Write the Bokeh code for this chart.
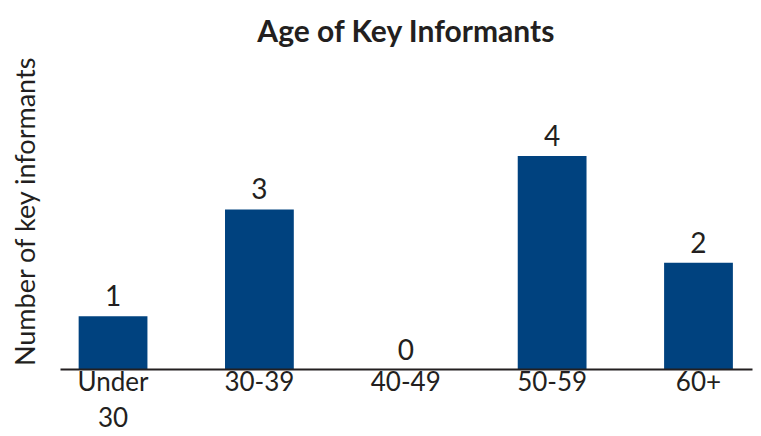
from bokeh.plotting import figure
from bokeh.models import ColumnDataSource, Range1d, FixedTicker
from bokeh.core.properties import value
from bokeh.embed import file_html
from bokeh.resources import INLINE

categories = ["Under\n30", "30-39", "40-49", "50-59", "60+"]
counts = [1, 3, 0, 4, 2]

xs = [i + 1 for i in range(len(categories))]
src = ColumnDataSource(dict(x=xs, top=counts, lbl=[str(c) for c in counts]))

FONT = "Lato"
TXT = "#231F20"
BAR = "#00427F"

p = figure(width=753, height=436, output_backend="svg", toolbar_location=None,
           x_range=Range1d(0.641, 5.369), y_range=Range1d(0, 5.94),
           min_border_left=60, min_border_right=1, min_border_top=52, min_border_bottom=60)
p.title.text = "Age of Key Informants"
p.title.align = "center"
p.title.text_font = FONT
p.title.text_font_size = "30px"
p.title.text_font_style = "bold"
p.title.text_color = TXT
p.title.standoff = 10

p.vbar(x="x", top="top", width=0.47, source=src, color=BAR, line_color=None)
p.text(x="x", y="top", text="lbl", source=src, text_align="center", text_baseline="bottom",
       y_offset=-10, text_font=value(FONT), text_font_size="28px", text_color=TXT)

p.xaxis.ticker = FixedTicker(ticks=xs)
p.xaxis.major_label_overrides = {x: c for x, c in zip(xs, categories)}
p.xaxis.major_tick_line_color = None
p.xaxis.minor_tick_line_color = None
p.xaxis.axis_line_color = TXT
p.xaxis.axis_line_width = 2
p.xaxis.major_label_text_font = FONT
p.xaxis.major_label_text_font_size = "26px"
p.xaxis.major_label_text_color = TXT
p.xaxis.major_label_text_line_height = 1.15
p.xaxis.major_label_standoff = -11

p.yaxis.ticker = FixedTicker(ticks=[])
p.yaxis.axis_line_color = None
p.yaxis.major_tick_line_color = None
p.yaxis.minor_tick_line_color = None
p.yaxis.major_label_text_font_size = "0px"
p.yaxis.axis_label = "Number of key informants"
p.yaxis.axis_label_text_font = FONT
p.yaxis.axis_label_text_font_size = "27px"
p.yaxis.axis_label_text_font_style = "normal"
p.yaxis.axis_label_text_color = TXT
p.yaxis.axis_label_standoff = 20

p.xgrid.visible = False
p.ygrid.visible = False
p.outline_line_color = None

open("out.html", "w").write(file_html(p, INLINE))
